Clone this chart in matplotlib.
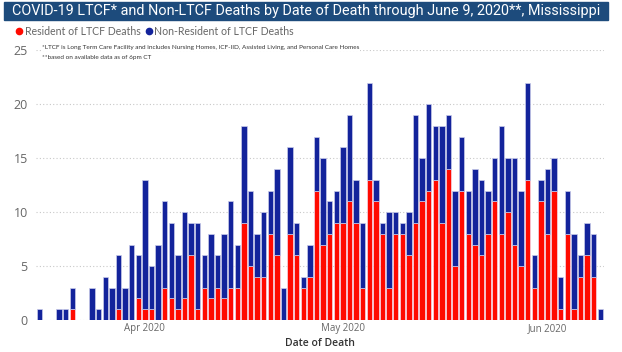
import matplotlib
matplotlib.use("Agg")
import matplotlib.pyplot as plt
import matplotlib.dates as mdates
import pandas as pd
import numpy as np
from matplotlib.lines import Line2D

# Data: deaths per day from 2020-03-16 to 2020-06-09
start_date = "2020-03-16"
end_date = "2020-06-09"
total_deaths = [1, 0, 0, 1, 1, 3, 0, 0, 3, 1, 4, 3, 6, 3, 7, 6,
                13, 5, 7, 11, 9, 6, 10, 9, 9, 6, 8, 6, 8, 11, 7, 18,
                12, 8, 10, 12, 14, 3, 16, 9, 4, 7, 17, 15, 11, 12,
                16, 19, 13, 9, 22, 13, 9, 10, 10, 9, 10, 19, 15, 20,
                18, 18, 19, 12, 17, 12, 14, 13, 12, 15, 18, 15, 15, 12,
                22, 6, 13, 14, 15, 4, 12, 8, 6, 9, 8, 1]
resident_deaths = [0, 0, 0, 0, 0, 1, 0, 0, 0, 0, 0, 0, 1, 0, 0, 2,
                   1, 1, 0, 3, 2, 1, 2, 6, 1, 3, 2, 3, 2, 3, 3, 9,
                   5, 4, 4, 8, 6, 0, 8, 6, 3, 4, 12, 7, 8, 9,
                   9, 11, 9, 3, 13, 11, 8, 3, 8, 8, 6, 9, 11, 12,
                   13, 9, 14, 5, 12, 8, 7, 6, 8, 11, 8, 10, 7, 5,
                   13, 3, 11, 8, 12, 1, 8, 1, 4, 6, 4, 0]
nonresident_deaths = [t - r for t, r in zip(total_deaths, resident_deaths)]
series_labels = ["Resident of LTCF Deaths", "Non-Resident of LTCF Deaths"]
y_ticks = [0, 5, 10, 15, 20, 25]
x_tick_dates = ["2020-04-01", "2020-05-01", "2020-06-01"]

dates = pd.date_range(start_date, end_date, freq="D")

RED = "#FF0A00"
BLUE = "#13239B"

fig = plt.figure(figsize=(6.22, 3.52), dpi=100)
W, H = 622, 352

# Title bar
fig.patches.append(plt.Rectangle((4 / W, 1 - 19.5 / H), 604 / W, 17.5 / H,
                                 transform=fig.transFigure, color="#1D4B7C", zorder=0))
fig.text(12 / W, 1 - 11 / H,
         "COVID-19 LTCF* and Non-LTCF Deaths by Date of Death through June 9, 2020**, Mississippi",
         color="white", fontsize=10.4, family="Roboto", va="center", ha="left")

ax = fig.add_axes([36 / W, 1 - 320 / H, 567.6 / W, (320 - 50.4) / H])
ax.bar(dates, resident_deaths, width=0.82, color=RED, edgecolor="#F4D8E8", linewidth=0.5,
       zorder=2)
ax.bar(dates, nonresident_deaths, bottom=resident_deaths, width=0.82, color=BLUE,
       edgecolor="#C9CBEA", linewidth=0.5, zorder=2)

ax.set_xlim(dates[0] - pd.Timedelta(hours=12), dates[-1] + pd.Timedelta(hours=12))
ax.set_ylim(0, 25)
ax.set_yticks(y_ticks)
ax.set_xticks(pd.to_datetime(x_tick_dates))
ax.xaxis.set_major_formatter(mdates.DateFormatter("%b %Y"))
ax.tick_params(axis="y", length=0, labelsize=9, labelcolor="#666666", pad=6)
ax.tick_params(axis="x", length=0, labelsize=7, labelcolor="#666666", pad=2)
for lbl in ax.get_yticklabels():
    lbl.set_family("Open Sans")
for lbl in ax.get_xticklabels():
    lbl.set_family("Open Sans")
ax.grid(axis="y", linestyle=(0, (1, 2)), color="#C8C8C8", linewidth=0.8, zorder=0)
for s in ax.spines.values():
    s.set_visible(False)
ax.set_xlabel("Date of Death", fontsize=7.5, color="#333333", family="Open Sans",
              fontweight="semibold", labelpad=3)

# Legend
handles = [Line2D([], [], marker="o", linestyle="", color=RED, markersize=4.5),
           Line2D([], [], marker="o", linestyle="", color=BLUE, markersize=4.5)]
fig.legend(handles, series_labels, loc="center left", bbox_to_anchor=(14 / W, 1 - 31.5 / H),
           ncol=2, frameon=False, handletextpad=0.0, columnspacing=0.3,
           handlelength=1.0, borderaxespad=0, borderpad=0,
           prop={"family": "Lato", "size": 7.6})
for t in fig.legends[0].get_texts():
    t.set_color("#666666")

# Footnotes
fig.text(42 / W, 1 - 47.5 / H,
         "*LTCF is Long Term Care Facility and includes Nursing Homes, ICF-IID, Assisted Living, and Personal Care Homes",
         fontsize=4.6, color="#333333", family="Lato", va="center",
         bbox=dict(facecolor="white", edgecolor="none", pad=0.5))
fig.text(42 / W, 1 - 58 / H, "**based on available data as of 6pm CT",
         fontsize=4.6, color="#333333", family="Lato", va="center")

fig.savefig("out.png", dpi=100)
